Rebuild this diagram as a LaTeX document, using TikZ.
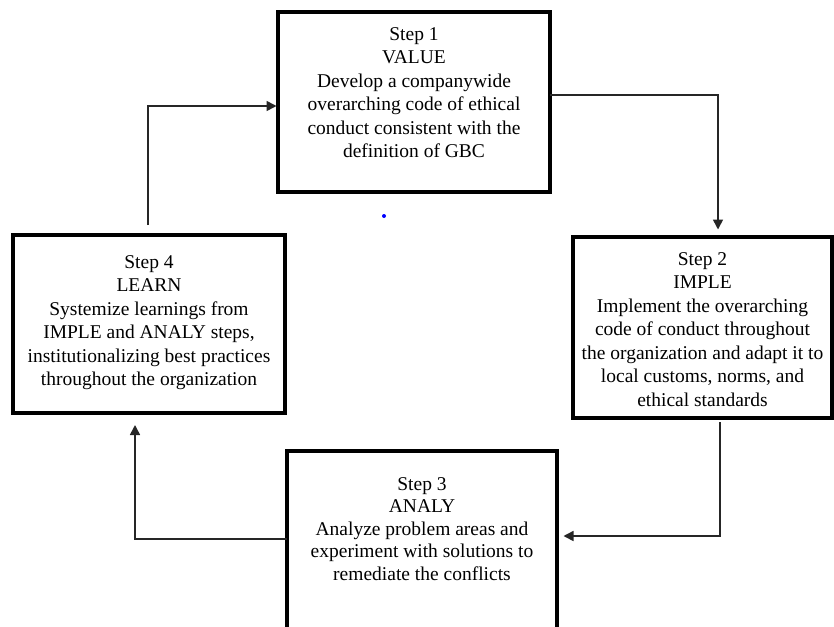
\documentclass[tikz,border=0pt]{standalone}
\usepackage{fontspec}
\setmainfont{Liberation Serif}
\usetikzlibrary{arrows.meta}
\begin{document}
\begin{tikzpicture}[x=1pt,y=-1pt,
  stepbox/.style={draw=black, line width=3.3pt, inner sep=0pt, outer sep=0pt},
  steptext/.style={align=center, anchor=north, inner sep=0pt,
    font=\fontsize{19.5}{23.5}\selectfont},
  conn/.style={draw=black!85, line width=1.6pt, -{Triangle[length=10pt,width=10pt]}}]
\path[use as bounding box, clip] (0,0) rectangle (834,626);

% boxes
\node[stepbox, minimum width=272pt, minimum height=180pt] (b1) at (414,102) {};
\node[stepbox, minimum width=259pt, minimum height=181pt] (b2) at (702.5,327.5) {};
\node[stepbox, minimum width=270pt, minimum height=180pt] (b3) at (422,541) {};
\node[stepbox, minimum width=272pt, minimum height=178pt] (b4) at (149,324) {};

% texts
\node[steptext] (t1) at (414,27) {Step 1\\VALUE\\Develop a companywide\\overarching code of ethical\\conduct consistent with the\\definition of GBC};
\node[steptext] (t2) at (702.5,252) {Step 2\\IMPLE\\Implement the overarching\\code of conduct throughout\\the organization and adapt it to\\local customs, norms, and\\ethical standards};
\node[steptext, font=\fontsize{19.5}{22.5}\selectfont] (t3) at (422,477) {Step 3\\ANALY\\Analyze problem areas and\\experiment with solutions to\\remediate the conflicts};
\node[steptext] (t4) at (149,255) {Step 4\\LEARN\\Systemize learnings from\\IMPLE and ANALY steps,\\institutionalizing best practices\\throughout the organization};

% corners
\coordinate (c12) at (718,95);
\coordinate (c23) at (720,536);
\coordinate (c34) at (135,539);
\coordinate (c41) at (148,106);

% connectors
\draw[conn, shorten >=7.5pt] (b1.east |- c12) -- (c12) -- (c12 |- b2.north);
\draw[conn, shorten <=4pt, shorten >=6.5pt] (c23 |- b2.south) -- (c23) -- (b3.east |- c23);
\draw[conn, shorten >=12pt] (b3.west |- c34) -- (c34) -- (c34 |- b4.south);
\draw[conn, shorten <=10pt, shorten >=1.5pt] (c41 |- b4.north) -- (c41) -- (b1.west |- c41);

% stray dot
\fill[blue] (384,216) circle (2pt);
\end{tikzpicture}
\end{document}
